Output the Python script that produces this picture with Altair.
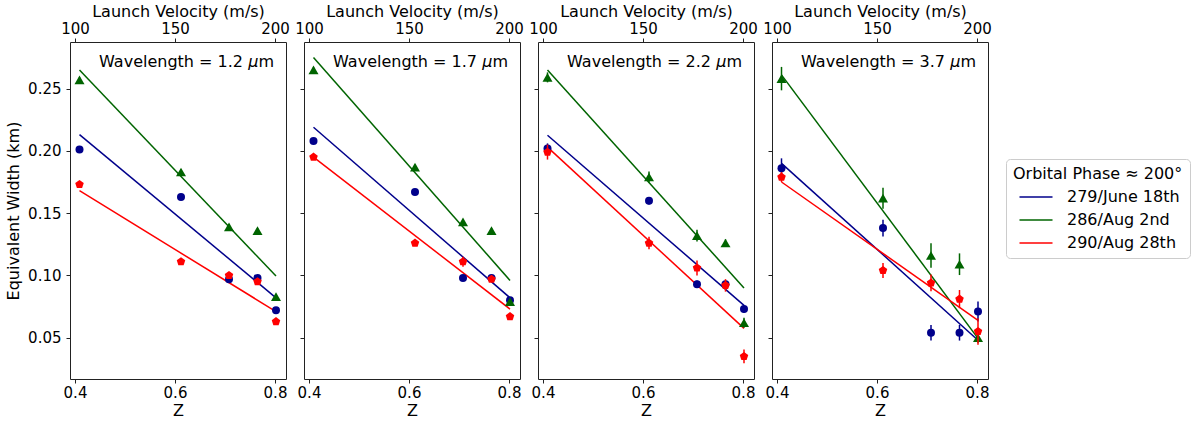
import altair as alt
import pandas as pd

# ---------------- data ----------------
z_values = [0.409, 0.612, 0.708, 0.765, 0.802]
fit_z = [0.409, 0.802]
velocity_ticks = [100, 150, 200]
series_names = ["279/June 18th", "286/Aug 2nd", "290/Aug 28th"]
series_colors = ["#00008b", "#006400", "#ff0000"]
pentagon_path = "M0,-1L0.951,-0.309L0.588,0.809L-0.588,0.809L-0.951,-0.309Z"
series_shapes = ["circle", "triangle-up", pentagon_path]
series_sizes = [64, 100, 80]
wavelength_values = ["Wavelength = 1.2", "Wavelength = 1.7",
                     "Wavelength = 2.2", "Wavelength = 3.7"]

# equivalent width (km) per panel, per series
ew_279 = [[0.201, 0.163, 0.097, 0.098, 0.072],
          [0.208, 0.167, 0.098, 0.098, 0.080],
          [0.202, 0.160, 0.093, 0.093, 0.073],
          [0.186, 0.138, 0.054, 0.054, 0.071]]
ew_286 = [[0.257, 0.183, 0.139, 0.136, 0.083],
          [0.265, 0.187, 0.143, 0.136, 0.079],
          [0.259, 0.179, 0.132, 0.126, 0.062],
          [0.258, 0.162, 0.116, 0.109, 0.050]]
ew_290 = [[0.173, 0.111, 0.100, 0.095, 0.063],
          [0.195, 0.126, 0.111, 0.097, 0.067],
          [0.199, 0.126, 0.106, 0.092, 0.035],
          [0.179, 0.104, 0.094, 0.081, 0.055]]

# error bars (half-length, km)
err_279 = [[0.002, 0.002, 0.002, 0.002, 0.002],
           [0.002, 0.002, 0.002, 0.002, 0.002],
           [0.004, 0.003, 0.003, 0.003, 0.003],
           [0.008, 0.0067, 0.0063, 0.0063, 0.008]]
err_286 = [[0.002, 0.002, 0.002, 0.002, 0.002],
           [0.002, 0.002, 0.002, 0.002, 0.002],
           [0.004, 0.0045, 0.0047, 0.003, 0.004],
           [0.0094, 0.0084, 0.0098, 0.0087, 0.004]]
err_290 = [[0.002, 0.002, 0.002, 0.002, 0.002],
           [0.002, 0.002, 0.004, 0.002, 0.002],
           [0.006, 0.005, 0.006, 0.005, 0.0056],
           [0.004, 0.006, 0.0067, 0.0073, 0.0107]]

# fitted line end values at fit_z
fit_279 = [[0.213, 0.082], [0.219, 0.082], [0.2125, 0.076], [0.190, 0.048]]
fit_286 = [[0.265, 0.0995], [0.275, 0.096], [0.265, 0.090], [0.261, 0.0495]]
fit_290 = [[0.168, 0.071], [0.195, 0.073], [0.203, 0.0575], [0.175, 0.064]]

# ---------------- tables ----------------
ew_all = [ew_279, ew_286, ew_290]
err_all = [err_279, err_286, err_290]
fit_all = [fit_279, fit_286, fit_290]

pt_rows, fit_rows = [], []
for p in range(4):
    for s, name in enumerate(series_names):
        for k, z in enumerate(z_values):
            v = ew_all[s][p][k]
            e = err_all[s][p][k]
            pt_rows.append(dict(panel=p, series=name, order=s, z=z, ew=v,
                                lo=v - e, hi=v + e))
        for k, z in enumerate(fit_z):
            fit_rows.append(dict(panel=p, series=name, order=s, z=z,
                                 fit=fit_all[s][p][k]))
points_df = pd.DataFrame(pt_rows)
fits_df = pd.DataFrame(fit_rows)

FONT = "DejaVu Sans"
W, H = 216, 337
x_scale = alt.Scale(domain=[0.390, 0.822], nice=False, zero=False)
y_scale = alt.Scale(domain=[0.01685, 0.2874], nice=False, zero=False)
color_scale = alt.Scale(domain=series_names, range=series_colors)

legend = alt.Legend(
    title="Orbital Phase ≈ 200°", orient="none", legendX=936, legendY=117,
    titleFontSize=16, titleFontWeight="normal", titleColor="black",
    labelFontSize=16, labelColor="black", symbolType="M-1.27,0L1.27,0",
    symbolSize=676, symbolStrokeWidth=1.5, symbolFillColor="transparent",
    strokeColor="#cccccc",
    fillColor="white", cornerRadius=4, padding=7, symbolOffset=9,
    labelOffset=17, rowPadding=1, titlePadding=1, labelFont=FONT,
    titleFont=FONT,
)


def panel(p):
    pts = points_df[points_df.panel == p]
    fits = fits_df[fits_df.panel == p]
    x_axis = alt.Axis(values=[0.4, 0.6, 0.8], format=".1f", title="Z")
    if p == 0:
        y_axis = alt.Axis(values=[0.05, 0.10, 0.15, 0.20, 0.25], format=".2f",
                          title="Equivalent Width (km)")
    else:
        y_axis = alt.Axis(values=[0.05, 0.10, 0.15, 0.20, 0.25], labels=False,
                          title=None)
    X = alt.X("z:Q", scale=x_scale, axis=x_axis)

    lines = alt.Chart(fits).mark_line(strokeWidth=1.5, clip=True).encode(
        x=X,
        y=alt.Y("fit:Q", scale=y_scale, axis=y_axis),
        color=alt.Color("series:N", scale=color_scale, legend=legend),
        order="z:Q",
    )
    layers = [lines]
    for s, name in enumerate(series_names):
        sp = pts[pts.series == name]
        errs = alt.Chart(sp).mark_rule(strokeWidth=1.5).encode(
            x=X,
            y=alt.Y("lo:Q", scale=y_scale, axis=y_axis),
            y2="hi:Q",
            color=alt.Color("series:N", scale=color_scale, legend=None),
        )
        marks = alt.Chart(sp).mark_point(
            filled=True, opacity=1, size=series_sizes[s], shape=series_shapes[s]
        ).encode(
            x=X,
            y=alt.Y("ew:Q", scale=y_scale, axis=y_axis),
            color=alt.Color("series:N", scale=color_scale, legend=None),
        )
        layers += [errs, marks]

    txt = pd.DataFrame({"t": [wavelength_values[p]], "mu": ["μ"], "m": ["m"]})
    lab_main = alt.Chart(txt).mark_text(
        align="right", baseline="middle", fontSize=16, font=FONT, color="black"
    ).encode(x=alt.value(W - 43), y=alt.value(20), text="t:N")
    lab_mu = alt.Chart(txt).mark_text(
        align="right", baseline="middle", fontSize=16, font=FONT, color="black",
        fontStyle="italic"
    ).encode(x=alt.value(W - 27.5), y=alt.value(20), text="mu:N")
    lab_m = alt.Chart(txt).mark_text(
        align="right", baseline="middle", fontSize=16, font=FONT, color="black"
    ).encode(x=alt.value(W - 12), y=alt.value(20), text="m:N")
    layers += [lab_main, lab_mu, lab_m]

    top = alt.Chart(pd.DataFrame({"v": velocity_ticks})).mark_point(
        opacity=0).encode(
        x=alt.X("v:Q", scale=alt.Scale(domain=[97.5, 205.5], nice=False, zero=False),
                axis=alt.Axis(orient="top", values=velocity_ticks, format="d",
                              title="Launch Velocity (m/s)")),
    )
    base = alt.layer(*layers)
    return alt.layer(base, top).resolve_scale(x="independent").properties(
        width=W, height=H)


chart = alt.hconcat(*[panel(p) for p in range(4)], spacing=18, bounds="flush").resolve_scale(
    color="shared", y="shared"
).configure(
    font=FONT,
    padding={"left": 5, "top": 2, "right": 5, "bottom": 2},
).configure_view(
    stroke="#222222", strokeWidth=1
).configure_axis(
    labelFontSize=15, titleFontSize=16, titleFontWeight="normal",
    labelColor="black", titleColor="black", tickColor="#222222",
    tickSize=4, domain=False, grid=False,
    labelFont=FONT, titleFont=FONT,
).configure_axisX(
    labelPadding=2, titlePadding=2,
).configure_axisY(
    labelPadding=5, titlePadding=6,
)

chart.save("out.html", embed_options={"renderer": "svg", "actions": False})
